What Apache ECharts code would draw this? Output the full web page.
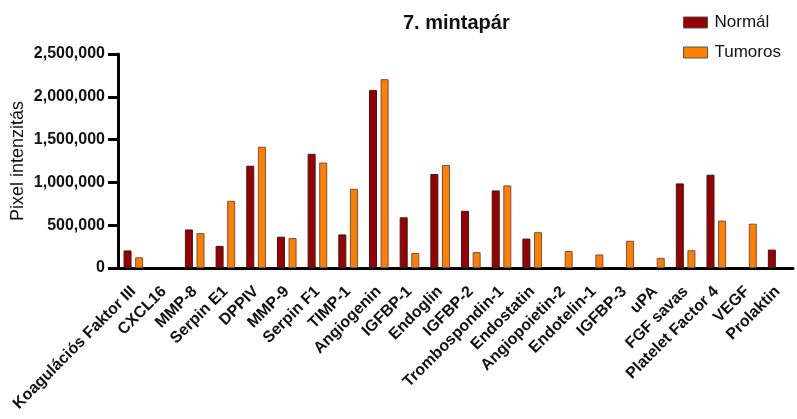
<!DOCTYPE html>
<html>
<head>
<meta charset="utf-8">
<script src="https://cdn.jsdelivr.net/npm/echarts@6/dist/echarts.min.js"></script>
<style>
  html, body { margin: 0; padding: 0; background: #fff; }
  #chart { width: 797px; height: 419px; }
</style>
</head>
<body>
<div id="chart"></div>
<script>
// Protein names on the x axis
const categories = [
  'Koagulációs Faktor III', 'CXCL16', 'MMP-8', 'Serpin E1', 'DPPIV', 'MMP-9',
  'Serpin F1', 'TIMP-1', 'Angiogenin', 'IGFBP-1', 'Endoglin', 'IGFBP-2',
  'Trombospondin-1', 'Endostatin', 'Angiopoietin-2', 'Endotelin-1', 'IGFBP-3',
  'uPA', 'FGF savas', 'Platelet Factor 4', 'VEGF', 'Prolaktin'
];

// Pixel intensities, normal tissue
const normalValues = [
  205000, 0, 450000, 258000, 1195000, 366000,
  1334000, 392000, 2078000, 592000, 1098000, 668000,
  906000, 344000, 0, 0, 0,
  0, 988000, 1090000, 0, 215000
];

// Pixel intensities, tumour tissue
const tumorValues = [
  125000, 0, 408000, 785000, 1417000, 350000,
  1232000, 925000, 2206000, 176000, 1203000, 185000,
  965000, 418000, 198000, 158000, 318000,
  118000, 208000, 554000, 518000, 0
];

const yTicks = { min: 0, max: 2500000, interval: 500000 };

// zero readings leave an empty slot instead of a flat outlined bar
const asBars = values => values.map(v => (v === 0 ? null : v));

const chart = echarts.init(document.getElementById('chart'), null, { renderer: 'canvas' });
const font = 'Liberation Sans, Arial, sans-serif';

chart.setOption({
  animation: false,
  backgroundColor: '#ffffff',
  title: {
    text: '7. mintapár',
    left: 398,
    top: 8,
    textStyle: { fontFamily: font, fontSize: 20, fontWeight: 'bold', color: '#111' }
  },
  legend: {
    orient: 'vertical',
    left: 678,
    top: 9,
    itemWidth: 24,
    itemHeight: 11,
    itemGap: 13,
    icon: 'rect',
    itemStyle: { borderColor: '#555', borderWidth: 1 },
    textStyle: { fontFamily: font, fontSize: 17, color: '#111', padding: [0, 0, 0, 2] },
    data: ['Normál', 'Tumoros']
  },
  grid: { left: 118, right: 4, top: 54, bottom: 151, containLabel: false, outerBoundsMode: 'none' },
  xAxis: {
    type: 'category',
    data: categories,
    boundaryGap: true,
    axisLine: { lineStyle: { color: '#000', width: 3 } },
    axisTick: { alignWithLabel: true, length: 7, lineStyle: { color: '#000', width: 3 } },
    axisLabel: {
      interval: 0,
      rotate: 45,
      margin: 21,
      fontFamily: font,
      fontSize: 16,
      fontWeight: 'bold',
      color: '#111'
    }
  },
  yAxis: {
    type: 'value',
    min: yTicks.min,
    max: yTicks.max,
    interval: yTicks.interval,
    name: 'Pixel intenzitás',
    nameLocation: 'middle',
    nameRotate: 90,
    nameGap: 91,
    nameMoveOverlap: false,
    nameTextStyle: { fontFamily: font, fontSize: 18, color: '#111' },
    splitLine: { show: false },
    axisLine: { show: true, lineStyle: { color: '#000', width: 3 } },
    axisTick: { show: true, length: 10, lineStyle: { color: '#000', width: 3 } },
    axisLabel: {
      margin: 13,
      fontFamily: font,
      fontSize: 16,
      fontWeight: 'bold',
      color: '#111',
      formatter: v => v.toLocaleString('en-US')
    }
  },
  series: [
    {
      name: 'Normál',
      type: 'bar',
      data: asBars(normalValues),
      barWidth: 8,
      barGap: '45%',
      itemStyle: { color: '#990000', borderColor: '#3a1a1a', borderWidth: 1 }
    },
    {
      name: 'Tumoros',
      type: 'bar',
      data: asBars(tumorValues),
      barWidth: 8,
      itemStyle: { color: '#ff8000', borderColor: '#7a5040', borderWidth: 1 }
    }
  ]
});
</script>
</body>
</html>
